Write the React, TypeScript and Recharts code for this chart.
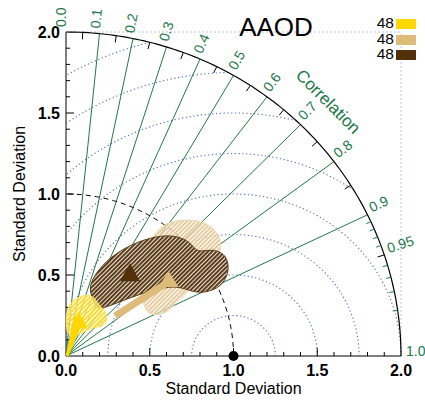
import { ScatterChart, Scatter, XAxis, YAxis, Curve } from "recharts";

type Pt = { x: number; y: number };

// axis ticks (standard deviation)
const stdTicks = [0, 0.5, 1, 1.5, 2];
const stdMajor = [0.5, 1, 1.5];
const stdMinor = [0.1, 0.2, 0.3, 0.4, 0.6, 0.7, 0.8, 0.9, 1.1, 1.2, 1.3, 1.4, 1.6, 1.7, 1.8, 1.9];

// correlation
const corrLines = [0.1, 0.2, 0.3, 0.4, 0.5, 0.6, 0.7, 0.8, 0.9];
const corrLabels = ["0.0", "0.1", "0.2", "0.3", "0.4", "0.5", "0.6", "0.7", "0.8", "0.9", "0.95", "1.0"];
const arcTicks = [0.05, 0.15, 0.25, 0.35, 0.45, 0.55, 0.65, 0.75, 0.85, 0.95];
const arcMinor = [0.91, 0.92, 0.93, 0.94, 0.96, 0.97, 0.98, 0.99];

// centred RMS difference circles around the reference
const rmsRadii = [0.25, 0.5, 0.75, 1.0, 1.25, 1.5, 1.75, 2.0];
const refStd = 1.0;
const maxStd = 2.0;

// data regions (x = std * corr, y = std * sin)
const yellowRegion: [number, number][] = [
  [0.0, 0.28], [0.036, 0.34], [0.084, 0.368], [0.131, 0.38], [0.17, 0.36], [0.195, 0.315],
  [0.235, 0.28], [0.25, 0.222], [0.22, 0.178], [0.155, 0.18], [0.096, 0.14], [0.024, 0.115], [0.0, 0.16],
];
const tanRegion: [number, number][] = [
  [0.55, 0.785], [0.615, 0.83], [0.74, 0.845], [0.85, 0.822], [0.92, 0.74], [0.93, 0.654],
  [0.88, 0.575], [0.775, 0.465], [0.725, 0.385], [0.65, 0.335], [0.63, 0.29], [0.56, 0.25],
  [0.49, 0.258], [0.46, 0.32], [0.45, 0.407], [0.462, 0.562], [0.49, 0.69],
];
const brownRegion: [number, number][] = [
  [0.18, 0.3], [0.14, 0.395], [0.148, 0.46], [0.212, 0.56], [0.318, 0.65], [0.46, 0.72],
  [0.603, 0.75], [0.705, 0.728], [0.758, 0.68], [0.785, 0.642], [0.842, 0.655], [0.93, 0.65],
  [0.975, 0.578], [0.963, 0.482], [0.905, 0.412], [0.8, 0.385], [0.722, 0.41], [0.663, 0.43],
  [0.561, 0.42], [0.46, 0.388], [0.322, 0.336], [0.215, 0.29],
];

const yellowArrow: [number, number][] = [[0.006, 0.0], [0.078, 0.235]];
const tanArrow: [number, number][] = [[0.293, 0.247], [0.609, 0.455]];
const yellowMarker: [number, number][] = [[0.078, 0.216]];
const tanMarker: [number, number][] = [[0.612, 0.47]];
const brownMarker: [number, number][] = [[0.382, 0.512]];

const legendRows = [
  { label: "48", color: "#FFD700" },
  { label: "48", color: "#DEBB78" },
  { label: "48", color: "#52300A" },
];

const GREEN = "#217848";
const BLUE = "#4a6db5";
const FONT = '"Liberation Sans", Arial, Helvetica, sans-serif';

const toPts = (a: [number, number][]): Pt[] => a.map(([x, y]) => ({ x, y }));
const onArc = (r: number, c: number) => ({ x: r * c, y: r * Math.sqrt(Math.max(0, 1 - c * c)), c });

function circlePts(cx: number, r: number, a0: number, a1: number, n = 120): Pt[] {
  const out: Pt[] = [];
  for (let i = 0; i <= n; i++) {
    const a = a0 + ((a1 - a0) * i) / n;
    out.push({ x: Math.max(0, cx + r * Math.cos(a)), y: Math.max(0, r * Math.sin(a)) });
  }
  return out;
}

function rmsArc(r: number): Pt[] {
  const clamp = (v: number) => Math.min(1, Math.max(-1, v));
  const a0 = Math.acos(clamp((maxStd * maxStd - refStd * refStd - r * r) / (2 * r * refStd)));
  const a1 = Math.acos(clamp(-refStd / r));
  return circlePts(refStd, r, a0, a1);
}

const Empty = () => <g />;

const polyline = (stroke: string, width: number, dash?: string) => (p: any) => (
  <Curve points={p.points} type="linear" fill="none" stroke={stroke} strokeWidth={width} strokeDasharray={dash} />
);

const region = (fill: string, stroke: string) => (p: any) => (
  <Curve points={p.points} type="basisClosed" fill={fill} stroke={stroke} strokeWidth={1} />
);

const arrow = (color: string, w0: number, w1: number) => (p: any) => {
  const [a, b] = p.points;
  const dx = b.x - a.x;
  const dy = b.y - a.y;
  const len = Math.hypot(dx, dy) || 1;
  const nx = -dy / len;
  const ny = dx / len;
  const pts = [
    [a.x + nx * w0, a.y + ny * w0],
    [b.x + nx * w1, b.y + ny * w1],
    [b.x - nx * w1, b.y - ny * w1],
    [a.x - nx * w0, a.y - ny * w0],
  ];
  return <polygon points={pts.map((q) => q.join(",")).join(" ")} fill={color} />;
};

const triangle = (color: string, half: number, h: number) => (p: any) => {
  const { cx, cy } = p;
  const pts = `${cx},${cy - h * 0.55} ${cx + half},${cy + h * 0.45} ${cx - half},${cy + h * 0.45}`;
  return <polygon points={pts} fill={color} />;
};

const xTick = (len: number) => (p: any) => (
  <line x1={p.cx} y1={p.cy} x2={p.cx} y2={p.cy - len} stroke="#000" strokeWidth={1} />
);
const yTick = (len: number) => (p: any) => (
  <line x1={p.cx} y1={p.cy} x2={p.cx + len} y2={p.cy} stroke="#000" strokeWidth={1} />
);
const arcTick = (len: number, color: string) => (p: any) => {
  const th = Math.acos(p.payload.c);
  return (
    <line
      x1={p.cx}
      y1={p.cy}
      x2={p.cx - len * Math.cos(th)}
      y2={p.cy + len * Math.sin(th)}
      stroke={color}
      strokeWidth={1}
    />
  );
};

const CorrLabel = (p: any) => {
  const th = Math.acos(p.payload.c);
  const d = 5;
  const x = p.cx + d * Math.cos(th);
  const y = p.cy - d * Math.sin(th);
  return (
    <text x={x} y={y} fill={GREEN} fontSize={14} transform={`rotate(${(-th * 180) / Math.PI} ${x} ${y})`}>
      {p.payload.label}
    </text>
  );
};

const CorrTitle = (p: any) => {
  const th = Math.acos(p.payload.c);
  const d = 36;
  const x = p.cx + d * Math.cos(th);
  const y = p.cy - d * Math.sin(th);
  return (
    <text
      x={x}
      y={y}
      dy="0.35em"
      fill={GREEN}
      fontSize={17}
      textAnchor="middle"
      transform={`rotate(${90 - (th * 180) / Math.PI} ${x} ${y})`}
    >
      Correlation
    </text>
  );
};

const RefDot = (p: any) => <circle cx={p.cx} cy={p.cy} r={5} fill="#000" />;

export default function App() {
  const corrLabelData = corrLabels.map((label) => ({ ...onArc(maxStd, parseFloat(label)), label }));
  return (
    <div
      style={{ position: "absolute", left: 0, top: 0, width: 425, height: 401, background: "#fff", fontFamily: FONT }}
    >
      <ScatterChart width={425} height={401} margin={{ top: 32, right: 24, bottom: 0, left: 0 }}>
        <defs>
          <pattern id="hatchBrown" width="3" height="3" patternUnits="userSpaceOnUse" patternTransform="rotate(45)">
            <rect width="3" height="3" fill="#ece0cb" fillOpacity={0.85} />
            <line x1="0.9" y1="0" x2="0.9" y2="3" stroke="#4e300f" strokeWidth="1.9" />
          </pattern>
          <pattern id="hatchTan" width="3" height="3" patternUnits="userSpaceOnUse" patternTransform="rotate(45)">
            <rect width="3" height="3" fill="#ffffff" fillOpacity={0.6} />
            <line x1="0.8" y1="0" x2="0.8" y2="3" stroke="#e0c088" strokeWidth="1.6" />
          </pattern>
          <pattern id="hatchYellow" width="3" height="3" patternUnits="userSpaceOnUse" patternTransform="rotate(45)">
            <rect width="3" height="3" fill="#ffffff" fillOpacity={0.6} />
            <line x1="0.8" y1="0" x2="0.8" y2="3" stroke="#FFD700" strokeWidth="1.6" />
          </pattern>
        </defs>
        <XAxis
          type="number"
          dataKey="x"
          domain={[0, 2]}
          ticks={stdTicks}
          interval={0}
          tickFormatter={(v: number) => v.toFixed(1)}
          tickLine={false}
          tickSize={0}
          tickMargin={9}
          axisLine={{ stroke: "#000" }}
          tick={{ fill: "#000", fontSize: 16, fontWeight: 700 }}
          height={45}
          label={{ value: "Standard Deviation", position: "insideBottom", offset: 7, fill: "#000", fontSize: 16 }}
        />
        <YAxis
          type="number"
          dataKey="y"
          domain={[0, 2]}
          ticks={stdTicks}
          interval={0}
          tickFormatter={(v: number) => v.toFixed(1)}
          tickLine={false}
          tickSize={0}
          tickMargin={6}
          axisLine={{ stroke: "#000" }}
          tick={{ fill: "#000", fontSize: 16, fontWeight: 700 }}
          width={66}
          label={{
            value: "Standard Deviation",
            angle: -90,
            position: "insideLeft",
            offset: 19,
            fill: "#000",
            fontSize: 16,
            style: { textAnchor: "middle" },
          }}
        />

        {/* light frame at std = 2 */}
        <Scatter data={[{ x: 0, y: 2 }, { x: 2, y: 2 }]} shape={Empty} line={polyline("#b9c9e6", 1, "2 2")} isAnimationActive={false} />
        <Scatter data={[{ x: 2, y: 0 }, { x: 2, y: 2 }]} shape={Empty} line={polyline("#b9c9e6", 1, "2 2")} isAnimationActive={false} />

        {/* RMS circles */}
        {rmsRadii.map((r) => (
          <Scatter key={`rms${r}`} data={rmsArc(r)} shape={Empty} line={polyline(BLUE, 1.1, "1.2 2.6")} isAnimationActive={false} />
        ))}

        {/* correlation rays */}
        {corrLines.map((c) => (
          <Scatter
            key={`ray${c}`}
            data={[{ x: 0, y: 0 }, onArc(maxStd, c)]}
            shape={Empty}
            line={polyline(GREEN, 1)}
            isAnimationActive={false}
          />
        ))}

        {/* std = reference arc, outer arc */}
        <Scatter data={circlePts(0, refStd, 0, Math.PI / 2)} shape={Empty} line={polyline("#000", 1, "5 4")} isAnimationActive={false} />
        <Scatter data={circlePts(0, maxStd, 0, Math.PI / 2)} shape={Empty} line={polyline("#000", 1.2)} isAnimationActive={false} />

        {/* ticks */}
        <Scatter data={arcTicks.map((c) => onArc(maxStd, c))} shape={arcTick(7, "#000")} isAnimationActive={false} />
        <Scatter data={arcMinor.map((c) => onArc(maxStd, c))} shape={arcTick(5, GREEN)} isAnimationActive={false} />
        <Scatter data={stdMinor.map((x) => ({ x, y: 0 }))} shape={xTick(4)} isAnimationActive={false} />
        <Scatter data={stdMajor.map((x) => ({ x, y: 0 }))} shape={xTick(8)} isAnimationActive={false} />
        <Scatter data={stdMinor.map((y) => ({ x: 0, y }))} shape={yTick(4)} isAnimationActive={false} />
        <Scatter data={stdMajor.map((y) => ({ x: 0, y }))} shape={yTick(8)} isAnimationActive={false} />

        {/* regions */}
        <Scatter data={toPts(tanRegion)} shape={Empty} line={region("url(#hatchTan)", "#ecd7ad")} isAnimationActive={false} />
        <Scatter data={toPts(brownRegion)} shape={Empty} line={region("url(#hatchBrown)", "#5b3a17")} isAnimationActive={false} />
        <Scatter data={toPts(yellowRegion)} shape={Empty} line={region("url(#hatchYellow)", "#ffe35a")} isAnimationActive={false} />

        {/* arrows and markers */}
        <Scatter data={toPts(tanArrow)} shape={Empty} line={arrow("#DEBB78", 3.6, 3.6)} isAnimationActive={false} />
        <Scatter data={toPts(tanMarker)} shape={triangle("#DEBB78", 10, 16)} isAnimationActive={false} />
        <Scatter data={toPts(yellowArrow)} shape={Empty} line={arrow("#FFD700", 1.5, 5)} isAnimationActive={false} />
        <Scatter data={toPts(yellowMarker)} shape={triangle("#FFD700", 8, 16)} isAnimationActive={false} />
        <Scatter data={toPts(brownMarker)} shape={triangle("#52300A", 10, 18)} isAnimationActive={false} />

        {/* labels */}
        <Scatter data={corrLabelData} shape={CorrLabel} isAnimationActive={false} />
        <Scatter data={[onArc(maxStd, Math.SQRT1_2)]} shape={CorrTitle} isAnimationActive={false} />
        <Scatter data={[{ x: refStd, y: 0 }]} shape={RefDot} isAnimationActive={false} />
      </ScatterChart>

      <div
        style={{ position: "absolute", left: 276, top: 27, transform: "translate(-50%, -50%)", fontSize: 26, lineHeight: 1 }}
      >
        AAOD
      </div>
      {legendRows.map((row, i) => (
        <div key={i} style={{ position: "absolute", left: 350, top: 16 + i * 15.5, height: 15, width: 70 }}>
          <span
            style={{ position: "absolute", right: 26, top: -1, fontSize: 15.5, lineHeight: "15px", color: "#000" }}
          >
            {row.label}
          </span>
          <span style={{ position: "absolute", left: 46, top: 3, width: 20, height: 10, background: row.color }} />
        </div>
      ))}
    </div>
  );
}
